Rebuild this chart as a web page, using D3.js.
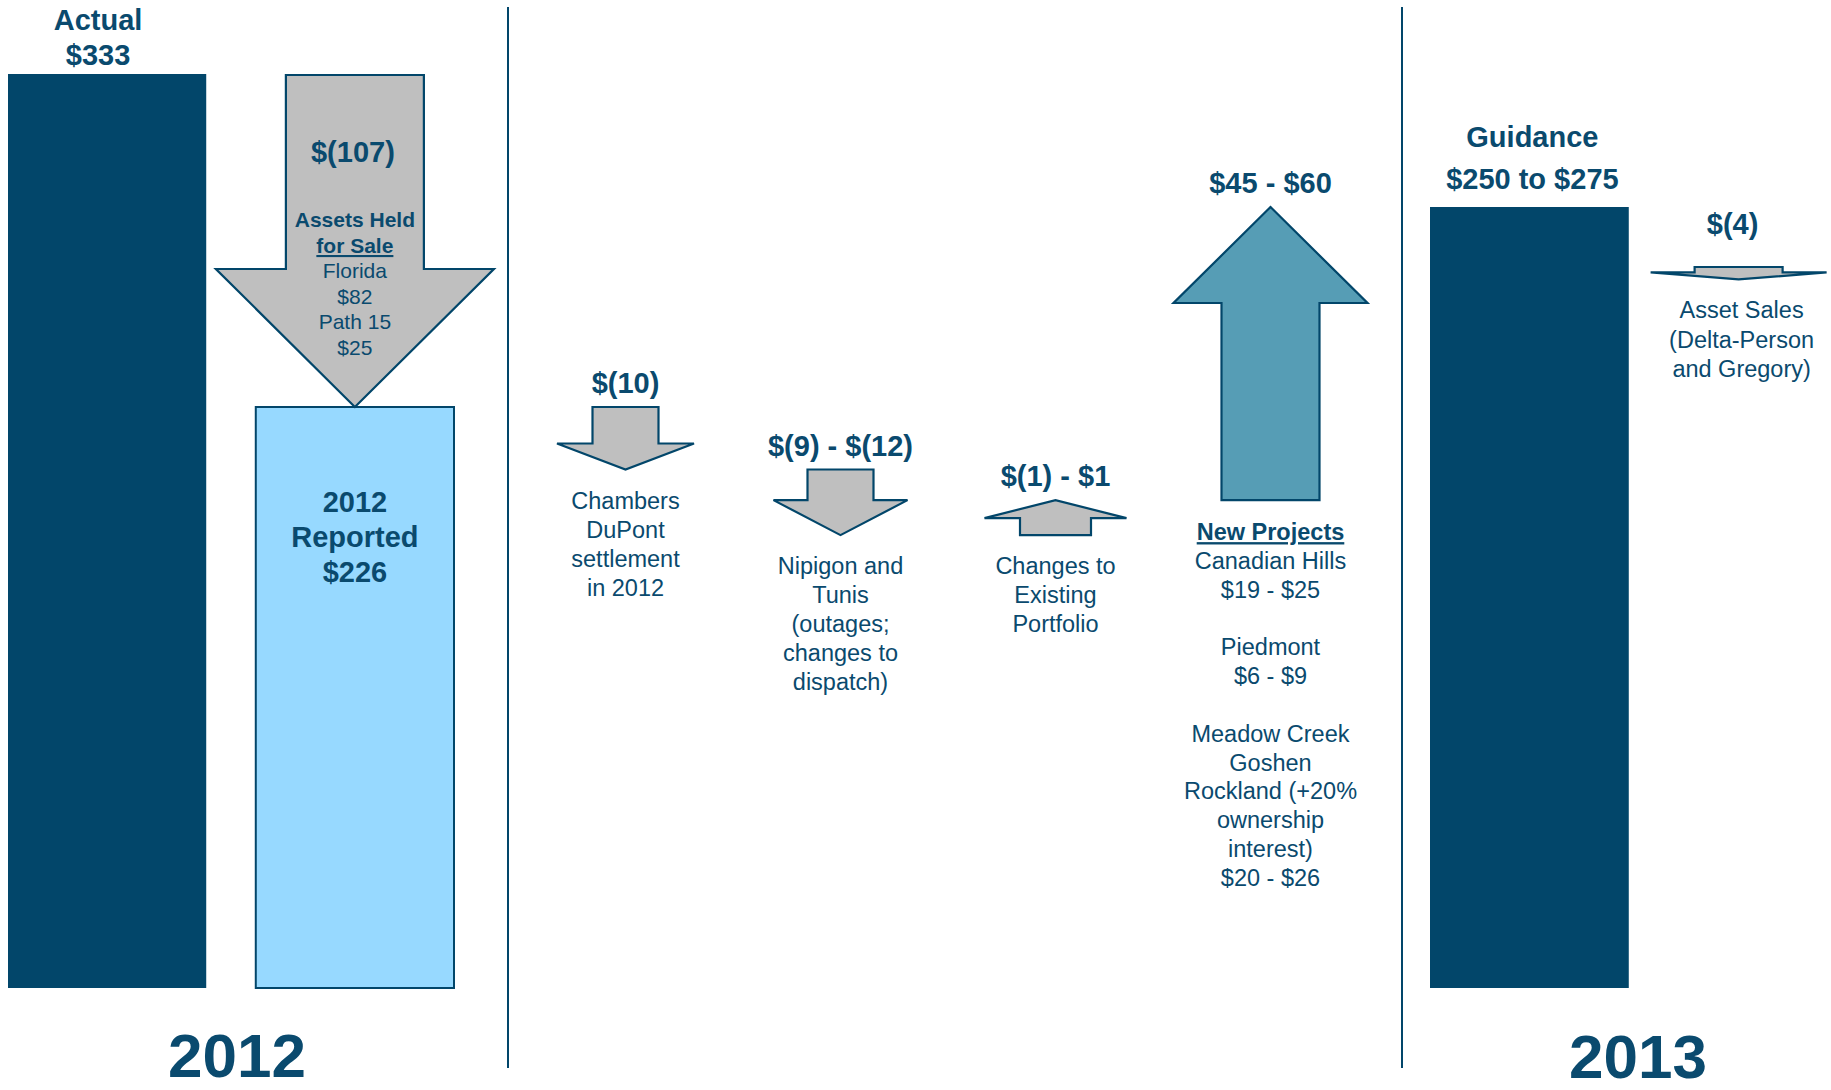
<!DOCTYPE html>
<html>
<head>
<meta charset="utf-8">
<script src="https://cdn.jsdelivr.net/npm/d3@7/dist/d3.min.js"></script>
<style>
  body { margin: 0; background: #fff; }
  text { font-family: "Liberation Sans", Arial, sans-serif; fill: #0a4a6e; }
</style>
</head>
<body>
<div id="chart"></div>
<script>
// ---- data ----
const years = ['2012', '2013'];
const bars2012 = ['Actual', 'Reported'];
const actual2012 = 333;
const heldNames = ['Florida', 'Path 15'];
const heldValues = [82, 25];

const bridgeNames = ['Chambers', 'Nipigon', 'Changes', 'New'];
const bridgeLow = [-10, -9, -1, 45];
const bridgeHigh = [-10, -12, 1, 60];
const bridgeNotes = [
    ['Chambers', 'DuPont', 'settlement', 'in 2012'],
    ['Nipigon and', 'Tunis', '(outages;', 'changes to', 'dispatch)'],
    ['Changes to', 'Existing', 'Portfolio'],
    null
];
const projectNames = [['Canadian Hills'], ['Piedmont'], ['Meadow Creek', 'Goshen', 'Rockland (+20%', 'ownership', 'interest)']];
const projectLow = [19, 6, 20];
const projectHigh = [25, 9, 26];

const bars2013 = ['Guidance', 'Asset Sales'];
const guidanceRange = [250, 275];
const assetSales = -4;
const assetNote = ['Asset Sales', '(Delta-Person', 'and Gregory)'];

// ---- styles ----
const navy = '#02466a';
const lightBlue = '#97d9ff';
const grey = '#bfbfbf';
const teal = '#569db5';
const arrowStyle = {
    held:     {sw: 138, hw: 278, hl: 138, fill: grey},
    Chambers: {sw: 66,  hw: 137, hl: 26,  fill: grey},
    Nipigon:  {sw: 66,  hw: 134, hl: 35,  fill: grey},
    Changes:  {sw: 71,  hw: 142, hl: 18,  fill: grey},
    New:      {sw: 98,  hw: 194, hl: 96,  fill: teal},
    asset:    {sw: 88,  hw: 176, hl: 7,   fill: grey}
};

const width = 1831, height = 1090;
const baseY = 988, top2013 = 207;
const dividers = [508, 1402];

function money(v){
    return v < 0 ? '$(' + (-v) + ')' : '$' + v;
}
function rangeLabel(lo, hi){
    return lo === hi ? money(lo) : money(lo) + ' - ' + money(hi);
}

const svg = d3.select('#chart').append('svg')
    .attr('width', width)
    .attr('height', height);

// ---- scales ----
const held = d3.sum(heldValues);
const reported = actual2012 - held;

const x2012 = d3.scaleBand().domain(bars2012).range([8, 454]).paddingInner(0.2);
const xBridge = d3.scaleBand().domain(bridgeNames).range([518, 1378]);
const x2013 = d3.scaleBand().domain(bars2013).range([1430, 1838]).paddingInner(0.05);

// not to scale in the original, so a piecewise scale
const y2012 = d3.scaleLinear().domain([0, reported, actual2012]).range([baseY, 407, 74]);

let cum = reported;
const steps = bridgeNames.map((name, i) => {
    const mid = (bridgeLow[i] + bridgeHigh[i]) / 2;
    const s = {name: name, start: cum, end: cum + mid, mid: mid,
        label: rangeLabel(bridgeLow[i], bridgeHigh[i]), notes: bridgeNotes[i]};
    cum += mid;
    return s;
});
const bridgeEnd = cum;
const yB = d3.scaleLinear().domain([reported, bridgeEnd]).range([y2012(reported), top2013]);

function arrowPath(cx, yTail, yTip, st){
    const dir = yTip > yTail ? 1 : -1;
    const yBase = yTip - dir * st.hl;
    const p = d3.path();
    p.moveTo(cx - st.sw / 2, yTail);
    p.lineTo(cx + st.sw / 2, yTail);
    p.lineTo(cx + st.sw / 2, yBase);
    p.lineTo(cx + st.hw / 2, yBase);
    p.lineTo(cx, yTip);
    p.lineTo(cx - st.hw / 2, yBase);
    p.lineTo(cx - st.sw / 2, yBase);
    p.closePath();
    return p.toString();
}

function drawArrow(cx, yTail, yTip, st){
    svg.append('path')
        .attr('d', arrowPath(cx, yTail, yTip, st))
        .attr('fill', st.fill)
        .attr('stroke', navy)
        .attr('stroke-width', 2.2)
        .attr('stroke-linejoin', 'miter');
}

function lines(cx, y0, lh, arr, size, weight){
    const t = svg.append('text')
        .attr('text-anchor', 'middle')
        .style('font-size', size + 'px')
        .style('font-weight', weight || 'normal');
    arr.forEach((d, i) => {
        t.append('tspan').attr('x', cx).attr('y', y0 + i * lh).text(d);
    });
    return t;
}

// ---- dividers ----
svg.selectAll('.divider')
    .data(dividers)
    .enter()
    .append('line')
    .attr('class', 'divider')
    .attr('x1', d => d).attr('x2', d => d)
    .attr('y1', 7).attr('y2', 1068)
    .attr('stroke', navy)
    .attr('stroke-width', 2);

// ---- 2012 ----
const c2012 = bars2012.map(d => x2012(d) + x2012.bandwidth() / 2);
const vals2012 = [actual2012, reported];

svg.selectAll('.bar2012')
    .data(bars2012)
    .enter()
    .append('rect')
    .attr('class', 'bar2012')
    .attr('x', d => x2012(d))
    .attr('width', x2012.bandwidth())
    .attr('y', (d, i) => y2012(vals2012[i]))
    .attr('height', (d, i) => baseY - y2012(vals2012[i]))
    .attr('fill', (d, i) => i === 0 ? navy : lightBlue)
    .attr('stroke', (d, i) => i === 0 ? 'none' : navy)
    .attr('stroke-width', 2);

const yAct = y2012(actual2012);
lines(c2012[0] - 9, yAct - 44, 35, ['Actual', money(actual2012)], 29, 'bold');

const yRep = y2012(reported);
lines(c2012[1], yRep + 105, 35, ['2012', 'Reported', money(reported)], 29, 'bold');

// assets held for sale arrow
drawArrow(c2012[1], yAct + 1, yRep, arrowStyle.held);
lines(c2012[1] - 2, yAct + 88, 0, [money(-held)], 29, 'bold');
lines(c2012[1], yAct + 153, 26, ['Assets Held'], 21, 'bold');
lines(c2012[1], yAct + 179, 26, ['for Sale'], 21, 'bold').style('text-decoration', 'underline');
const heldLines = [];
heldNames.forEach((n, i) => { heldLines.push(n); heldLines.push(money(heldValues[i])); });
lines(c2012[1], yAct + 204, 25.6, heldLines, 21);

// ---- bridge ----
let yPrev = yB(reported);
steps.forEach(s => {
    const cx = xBridge(s.name) + xBridge.bandwidth() / 2;
    const st = arrowStyle[s.name];
    let y0 = yPrev;
    let y1 = yB(s.end);
    if (Math.abs(y1 - y0) < 30) y1 = y0 + (s.mid >= 0 ? -35 : 35);
    drawArrow(cx, y0, y1, st);
    yPrev = y1;
    lines(cx, Math.min(y0, y1) - 14, 0, [s.label], 29, 'bold');
    if (s.notes) {
        lines(cx, Math.max(y0, y1) + 39, 29, s.notes, 23.5);
    } else {
        // new projects list
        const yTop = Math.max(y0, y1) + 40;
        lines(cx, yTop, 0, ['New Projects'], 23.5, 'bold').style('text-decoration', 'underline');
        const list = [];
        projectNames.forEach((n, i) => {
            if (i > 0) list.push('');
            n.forEach(t => list.push(t));
            list.push(rangeLabel(projectLow[i], projectHigh[i]));
        });
        lines(cx, yTop + 28.8, 28.8, list, 23.5);
    }
});

// ---- 2013 ----
const cG = x2013('Guidance') + x2013.bandwidth() / 2;
const cA = x2013('Asset Sales') + x2013.bandwidth() / 2;
const yG = yB(bridgeEnd);

svg.append('rect')
    .attr('x', x2013('Guidance'))
    .attr('width', x2013.bandwidth())
    .attr('y', yG)
    .attr('height', baseY - yG)
    .attr('fill', navy);

lines(cG + 3, yG - 60, 42, ['Guidance', money(guidanceRange[0]) + ' to ' + money(guidanceRange[1])], 29, 'bold');

const yAssetTail = yG + 60;
const yAssetTip = yAssetTail + Math.abs(y2012(actual2012) - y2012(actual2012 + assetSales));
drawArrow(cA, yAssetTail, yAssetTip, arrowStyle.asset);
lines(cA - 6, yG + 27, 0, [money(assetSales)], 29, 'bold');
lines(cA + 3, yAssetTip + 39, 29.5, assetNote, 23.5);

// ---- year labels ----
svg.selectAll('.year')
    .data(years)
    .enter()
    .append('text')
    .attr('class', 'year')
    .attr('text-anchor', 'middle')
    .attr('x', (d, i) => i === 0 ? (x2012.range()[0] + x2012.range()[1]) / 2 + 6 : (x2013.range()[0] + x2013.range()[1]) / 2 + 4)
    .attr('y', (d, i) => i === 0 ? 1077 : 1078)
    .style('font-size', '62px')
    .style('font-weight', 'bold')
    .text(d => d);
</script>
</body>
</html>
